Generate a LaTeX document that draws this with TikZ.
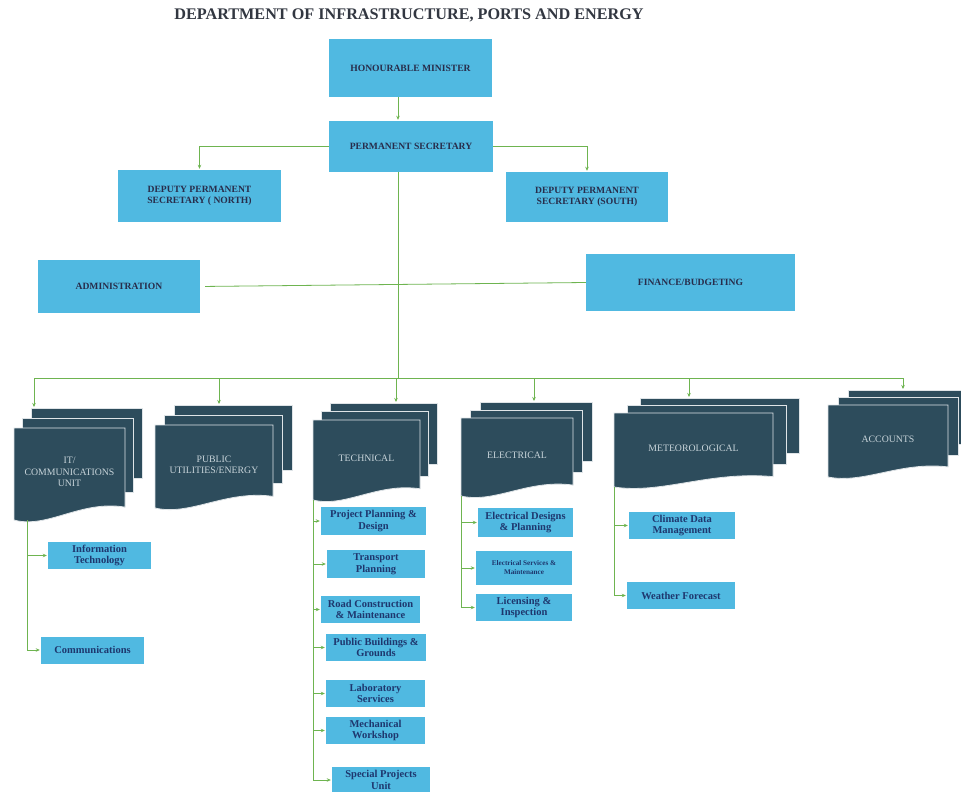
\documentclass[tikz,border=0pt]{standalone}
\usepackage{fontspec}
\setmainfont{Liberation Serif}
\usetikzlibrary{arrows.meta}
\definecolor{boxblue}{RGB}{80,185,225}
\definecolor{docblue}{RGB}{45,76,92}
\definecolor{linkgreen}{RGB}{110,180,80}
\definecolor{headtext}{RGB}{40,45,75}
\definecolor{unittext}{RGB}{30,55,110}
\definecolor{doctext}{RGB}{200,212,218}

\begin{document}
\begin{tikzpicture}[
        x=1pt, y=-1pt,
        headbox/.style={rectangle, fill=boxblue, align=center, text=headtext,
          font=\fontsize{9.6}{11.5}\selectfont\bfseries, inner sep=0pt},
        unitbox/.style={rectangle, fill=boxblue, align=center, text=unittext,
          font=\fontsize{10.5}{11.5}\selectfont\bfseries, inner sep=0pt, minimum height=27pt},
        doclabel/.style={align=center, text=doctext, font=\fontsize{9.8}{11.5}\selectfont},
        docpage/.style={fill=docblue, draw=white!85!docblue, line width=0.8pt},
        link/.style={draw=linkgreen, line width=0.8pt},
        tip/.style={-{Stealth[length=4pt,width=3.5pt]}, shorten >=1pt}
      ]
      \useasboundingbox[fill=white] (0,0) rectangle (961,792);

      \node (title) [font=\fontsize{16.2}{18}\selectfont\bfseries, text={rgb,255:red,50;green,55;blue,65}]
        at (409,15) {DEPARTMENT OF INFRASTRUCTURE, PORTS AND ENERGY};

      % top of the chart
      \node (minister) [headbox, minimum width=163pt, minimum height=58pt] at (410.5,68) {HONOURABLE MINISTER};
      \node (ps) [headbox, minimum width=164pt, minimum height=51pt] at (411,146.5) {PERMANENT SECRETARY};
      \node (dpsn) [headbox, minimum width=163pt, minimum height=52pt] at (199.5,196) {DEPUTY PERMANENT\\SECRETARY ( NORTH)};
      \node (dpss) [headbox, minimum width=162pt, minimum height=50pt] at (587,197) {DEPUTY PERMANENT\\SECRETARY (SOUTH)};
      \node (admin) [headbox, minimum width=162pt, minimum height=53pt] at (119,286.5) {ADMINISTRATION};
      \node (fin) [headbox, minimum width=209pt, minimum height=57pt] at (690.5,282.5) {FINANCE/BUDGETING};

      \coordinate (trunk) at (398,378);
      \draw[link, tip] (minister.south -| trunk) -- (ps.north -| trunk);
      \draw[link, tip] (ps.west) -| (dpsn.north);
      \draw[link, tip] (ps.east) -| (dpss.north);
      \draw[link] (ps.south -| trunk) -- (trunk);
      \draw[link, shorten <=5pt] (admin.east) -- (fin.west);

      % divisions, three pages each
      \foreach \nm/\px/\py/\pw/\ph/\ox/\oy/\ax/\bx/\txt in {
          it/14/428/111/92/8.5/10/34/27/{IT/\\COMMUNICATIONS\\UNIT},
          pu/155/425/118/83/9.5/10/219/155/{PUBLIC\\UTILITIES/ENERGY},
          tech/313/420/107/80/8.5/8.5/396/313/{TECHNICAL},
          elec/461/418/112/78/9.5/8/534/461/{ELECTRICAL},
          met/614/413/159/74/13/7.5/689/614/{METEOROLOGICAL},
          acc/828/405/120/72/10/7.5/903/828/{ACCOUNTS}} {
        \draw[docpage] ({\px+2*\ox},{\py-2*\oy}) rectangle ({\px+\pw+2*\ox},{\py+0.55*\ph});
        \draw[docpage] ({\px+\ox},{\py-\oy}) rectangle ({\px+\pw+\ox},{\py+0.7*\ph});
        \draw[docpage] (\px,\py) -- ({\px+\pw},\py) -- ({\px+\pw},{\py+0.86*\ph})
          .. controls ({\px+0.6*\pw},{\py+0.78*\ph}) and ({\px+0.3*\pw},{\py+1.1*\ph}) .. (\px,{\py+\ph}) -- cycle;
        \node (\nm) [doclabel] at ({\px+0.5*\pw},{\py+0.48*\ph}) {\txt};
        \coordinate (\nm-top) at (\ax,{\py-2*\oy});
        \coordinate (\nm-foot) at (\bx,{\py+\ph});
      }

      \draw[link] (it-top |- trunk) -- (acc-top |- trunk);
      \foreach \nm in {it,pu,tech,elec,met,acc}
        \draw[link, tip] (\nm-top |- trunk) -- (\nm-top);

      % units under the divisions
      \node (infotech) [unitbox, minimum width=103pt] at (99.5,555.5) {Information\\Technology};
      \node (comms) [unitbox, minimum width=103pt] at (92.5,650) {Communications};

      \node (ppd) [unitbox, minimum width=105pt, minimum height=28pt] at (373.5,521) {Project Planning \&\\Design};
      \node (tp) [unitbox, minimum width=98pt, minimum height=28pt] at (376,564) {Transport\\Planning};
      \node (rcm) [unitbox, minimum width=99pt] at (370.5,609.5) {Road Construction\\\& Maintenance};
      \node (pbg) [unitbox, minimum width=100pt] at (376,647.5) {Public Buildings \&\\Grounds};
      \node (lab) [unitbox, minimum width=99pt] at (375.5,693.5) {Laboratory\\Services};
      \node (mech) [unitbox, minimum width=99pt] at (375.5,730.5) {Mechanical\\Workshop};
      \node (spu) [unitbox, minimum width=98pt, minimum height=26pt] at (381,780) {Special Projects\\Unit};

      \node (edp) [unitbox, minimum width=95pt, minimum height=29pt] at (525.5,522.5) {Electrical Designs\\\& Planning};
      \node (esm) [unitbox, minimum width=96pt, minimum height=34pt, font=\fontsize{7.2}{9}\selectfont\bfseries] at (524,568) {Electrical Services \&\\Maintenance};
      \node (li) [unitbox, minimum width=96pt] at (524,607.5) {Licensing \&\\Inspection};

      \node (cdm) [unitbox, minimum width=106pt] at (682,525.5) {Climate Data\\Management};
      \node (wf) [unitbox, minimum width=108pt] at (681,595.5) {Weather Forecast};

      \foreach \u in {infotech,comms}
        \draw[link, tip] (it-foot) |- (\u.west);
      \foreach \u in {ppd,tp,rcm,pbg,lab,mech,spu}
        \draw[link, tip] (tech-foot) |- (\u.west);
      \foreach \u in {edp,esm,li}
        \draw[link, tip] (elec-foot) |- (\u.west);
      \foreach \u in {cdm,wf}
        \draw[link, tip] (met-foot) |- (\u.west);
\end{tikzpicture}
\end{document}
